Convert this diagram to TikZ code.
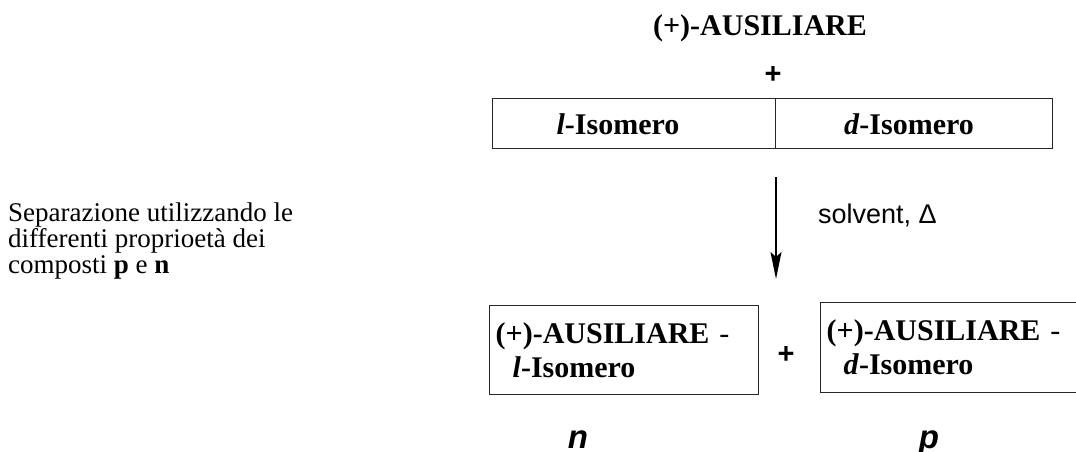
\documentclass[tikz,border=0pt]{standalone}
\usepackage{fontspec}
\setmainfont{Liberation Serif}
\newfontfamily\arialfont{Liberation Sans}
\usetikzlibrary{arrows.meta}
\begin{document}
\begin{tikzpicture}[x=1pt,y=-1pt,
  tbig/.style={font=\fontsize{30}{34}\selectfont, inner sep=0pt},
  tleft/.style={font=\fontsize{27}{26}\selectfont, inner sep=0pt, align=left},
  sanslab/.style={font=\arialfont\fontsize{27}{30}\selectfont, inner sep=0pt},
  plussign/.style={font=\arialfont\bfseries\fontsize{29}{29}\selectfont, inner sep=0pt},
  nplab/.style={font=\arialfont\bfseries\itshape\fontsize{33}{33}\selectfont, inner sep=0pt, anchor=base},
  cellbox/.style={draw=black!85, line width=1.4pt, inner sep=0pt, anchor=north west},
  prodbox/.style={draw=black!85, line width=1.4pt, anchor=north west, align=left,
     inner xsep=6pt, inner ysep=0pt, font=\fontsize{30}{34}\selectfont},
  reactarrow/.style={line width=2pt, -{Stealth[length=27pt,width=11pt,inset=5pt]}}
]
\useasboundingbox (0,0) rectangle (1076,452);
\clip (0,0) rectangle (1076,452);

% top reagent
\node[tbig] (aux) at (760,28) {\textbf{(+)-AUSILIARE}};
\node[plussign] (plusA) at (773,75) {+};

% racemate box
\node[cellbox, minimum width=283pt, minimum height=50pt] (lcell) at (492,98) {};
\node[cellbox, minimum width=277pt, minimum height=50pt] (rcell) at (775,98) {};
\node[tbig] (liso) at (618,124) {\textbf{\textit{l}-Isomero}};
\node[tbig] (diso) at (909,124) {\textbf{\textit{d}-Isomero}};

% reaction arrow
\coordinate (astart) at (776,177);
\coordinate (aend) at (776,279);
\draw[reactarrow] (astart) -- (aend);
\node[sanslab, anchor=west] (solv) at (818,215) {solvent, Δ};

% left explanation
\node[tleft, anchor=north west] (sep) at (8,203)
  {Separazione utilizzando le\\differenti proprioetà dei\\composti \textbf{p} e \textbf{n}};

% products
\node[prodbox, minimum width=269pt, minimum height=89pt, text width=257pt] (nbox) at (489,305)
  {\textbf{(+)-AUSILIARE} -\\\hspace*{17pt}\textbf{\textit{l}-Isomero}};
\node[plussign] (plusB) at (786,355) {+};
\node[prodbox, minimum width=272pt, minimum height=90pt, text width=260pt] (pbox) at (820,302)
  {\textbf{(+)-AUSILIARE} -\\\hspace*{17pt}\textbf{\textit{d}-Isomero}};

\node[nplab] (nlab) at (578,448) {n};
\node[nplab] (plab) at (929,448) {p};
\end{tikzpicture}
\end{document}
